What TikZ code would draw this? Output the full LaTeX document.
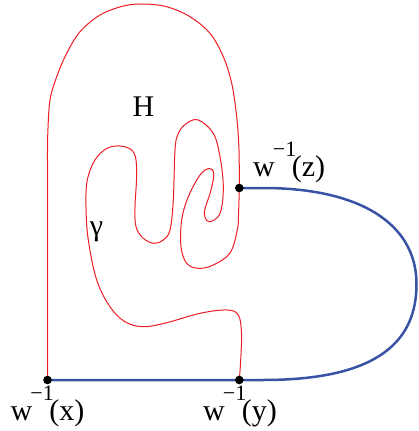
\documentclass[tikz,border=0pt]{standalone}
\usepackage{fontspec}
\setmainfont{Liberation Serif}
\newfontfamily\tms{Liberation Serif}
\definecolor{cred}{RGB}{237,28,36}
\definecolor{cblue}{RGB}{57,83,164}
\newcommand\winv[1]{w\kern-2pt\raisebox{20pt}{\fontsize{22}{22}\selectfont −1}\kern-4.5pt(#1)}
\begin{document}
\begin{tikzpicture}[x=1pt,y=-1pt,
  redline/.style={draw=cred,line width=1pt},
  blueline/.style={draw=cblue,line width=2.5pt},
  dotnode/.style={circle,fill=black,inner sep=0pt,minimum size=8.6pt},
  lbl/.style={inner sep=0pt,anchor=base west,font=\tms\fontsize{30}{36}\selectfont}]
\useasboundingbox (0,0) rectangle (418,431);
% blue curve
\coordinate (xb) at (47.5,380);
\coordinate (yb) at (239.3,380);
\coordinate (zb) at (239.3,188);
\draw[blueline] (xb) -- (yb) -- (263,380) .. controls (380,380) and (416.5,340) .. (416.5,284)
  .. controls (416.5,225) and (362,188) .. (263,188) -- (zb);
% red outer
\draw[redline] (xb) -- (47.5,160) plot[smooth,tension=0.55] coordinates {(47.5,160) (47.8,133) (50,100) (56.7,76.7) (66.7,53.3) (80,31.7) (100,15) (123.3,6) (143.3,4) (166.7,6.7) (190,16.7) (210,33.3) (223.3,56.7) (231.7,83.3) (236.7,116.7) (239,150) (239.3,188)};
% red inner
\draw[redline] plot[smooth,tension=0.6] coordinates {(239.3,188) (238.5,215) (237.3,230) (230,253) (213.3,265) (198.3,268.3) (186.7,263.3) (181,246.7) (181.7,220) (188.3,196.7) (200,175) (209.3,168.5) (213.8,174) (210.5,192) (204.5,211) (207,220.7) (213.3,220.5) (220.7,211.7) (223.3,186.7) (220,156.7) (213.3,133.3) (198.3,120) (186.7,123.3) (178.3,133.3) (175,150) (173.3,200) (170,230) (163.3,240) (154,243.3) (143.3,238.3) (136,226.7) (135,206.7) (136.5,180) (136,160) (131.7,150) (120,146) (106.7,148.5) (95,160) (87.3,180) (86,206.7) (88.3,240) (96.7,280) (110,306.7) (125,321.7) (143.3,326.7) (166.7,322.7) (200,313.3) (226.7,310) (238.3,315) (241.5,333.3) (240.7,360) (239.3,380)};
% dots
\node[dotnode] (x) at (xb) {};
\node[dotnode] (y) at (yb) {};
\node[dotnode] (z) at (zb) {};
% labels
\node[lbl] (lx) at (10.5,420.7) {\winv{x}};
\node[lbl] (ly) at (203,420.7) {\winv{y}};
\node[lbl] (lz) at (253,176) {\winv{z}};
\node[lbl] (H) at (132.5,116) {H};
\node[inner sep=0pt,font=\tms\fontsize{30}{36}\selectfont] (g) at (96.5,231.5) {γ};
\end{tikzpicture}
\end{document}
